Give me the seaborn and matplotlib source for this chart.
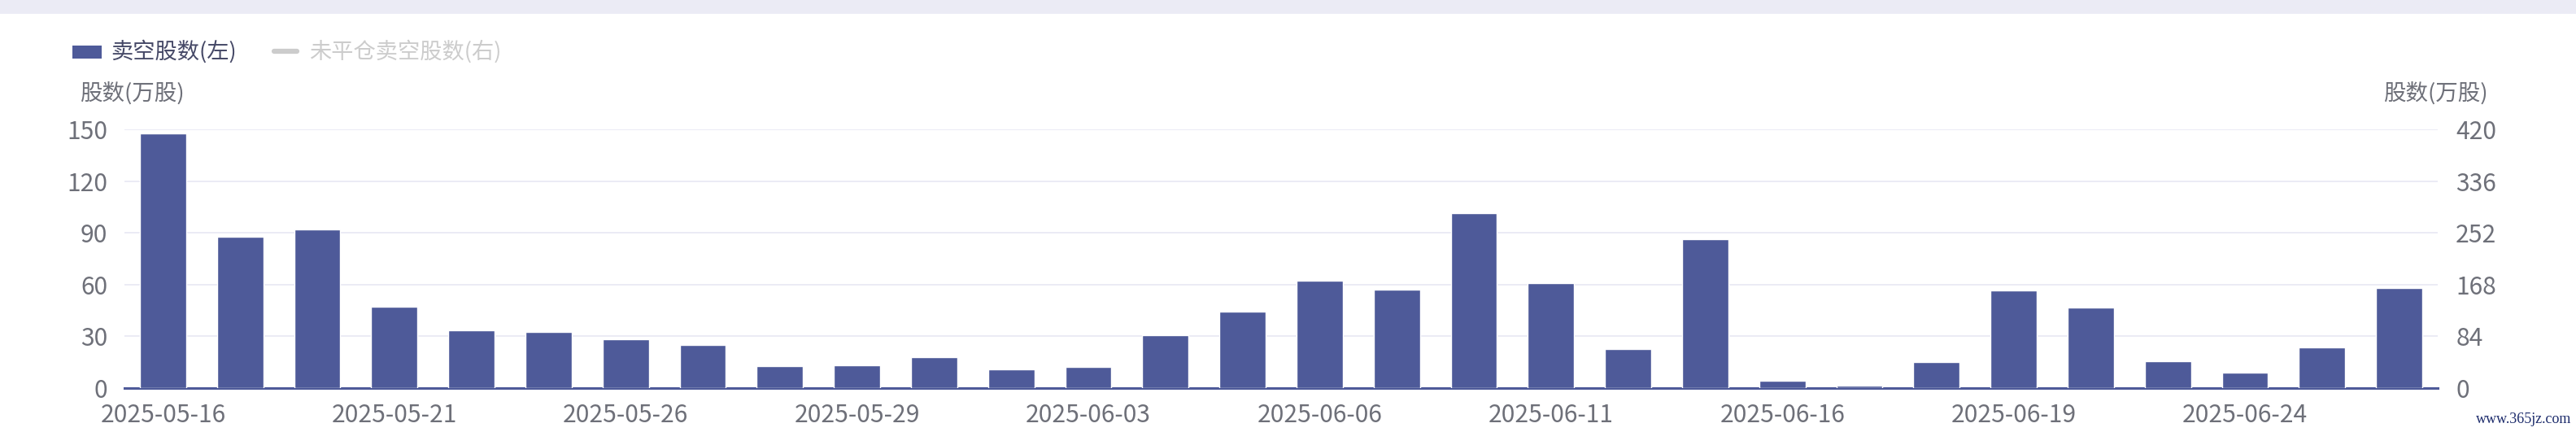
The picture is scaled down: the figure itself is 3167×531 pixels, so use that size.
import matplotlib

matplotlib.use("Agg")

import matplotlib.pyplot as plt
import pandas as pd
import seaborn as sns
from matplotlib.lines import Line2D
from matplotlib.patches import Rectangle

# trading days shown on the category axis
dates = [
    "2025-05-16", "2025-05-19", "2025-05-20", "2025-05-21", "2025-05-22",
    "2025-05-23", "2025-05-26", "2025-05-27", "2025-05-28", "2025-05-29",
    "2025-05-30", "2025-06-02", "2025-06-03", "2025-06-04", "2025-06-05",
    "2025-06-06", "2025-06-09", "2025-06-10", "2025-06-11", "2025-06-12",
    "2025-06-13", "2025-06-16", "2025-06-17", "2025-06-18", "2025-06-19",
    "2025-06-20", "2025-06-23", "2025-06-24", "2025-06-25", "2025-06-26",
]
# 卖空股数 (万股)
short_shares = [
    147.6, 87.6, 91.9, 47.2, 33.6, 32.7, 28.4, 24.9, 12.9, 13.1,
    17.8, 10.9, 12.5, 30.6, 44.4, 62.1, 57.0, 101.5, 60.8, 22.6,
    86.2, 4.4, 1.2, 15.3, 56.5, 46.7, 15.8, 9.0, 23.8, 57.9,
]
left_ticks = [0, 30, 60, 90, 120, 150]
right_ticks = [0, 84, 168, 252, 336, 420]
legend_labels = ["卖空股数(左)", "未平仓卖空股数(右)"]
axis_name = "股数(万股)"

BAR = "#4e5a99"
GREY = "#6e7079"
GRID = "#ebebf5"
W, H = 3167, 531

sns.set_theme(style="white")
plt.rcParams["font.family"] = ["Noto Sans CJK SC", "DejaVu Sans"]


def fx(px):
    return px / W


def fy(py):
    return 1 - py / H


fig = plt.figure(figsize=(W / 100, H / 100), dpi=100)
ax = fig.add_axes([fx(153), 54 / H, (2997 - 153) / W, (372 - 54) / H])

df = pd.DataFrame({"date": dates, "short": short_shares})
sns.barplot(data=df, x="date", y="short", color=BAR, width=0.6, saturation=1, ax=ax, zorder=3)

ax.set_xlim(-0.5, len(dates) - 0.5)
ax.set_ylim(0, 150)
ax.set_yticks(left_ticks)
ax.set_xticks(range(0, len(dates), 3))
ax.set_xticklabels(dates[::3])
ax.set_xlabel("")
ax.set_ylabel("")
ax.grid(axis="y", color=GRID, linewidth=1.4)
ax.grid(axis="x", visible=False)
ax.set_axisbelow(True)
ax.tick_params(axis="x", length=8, width=1.5, color=BAR, labelsize=21.6, labelcolor=GREY, pad=5)
ax.tick_params(axis="y", length=0, labelsize=21.6, labelcolor=GREY, pad=15)
for side in ("top", "right", "left"):
    ax.spines[side].set_visible(False)
ax.spines["bottom"].set_color(BAR)
ax.spines["bottom"].set_linewidth(2.2)

# right axis belongs to the hidden series, only its scale is shown
ax2 = ax.twinx()
ax2.set_ylim(0, 420)
ax2.set_yticks(right_ticks)
ax2.grid(False)
ax2.tick_params(axis="y", length=0, labelsize=21.6, labelcolor=GREY, pad=16)
for side in ("top", "right", "left", "bottom"):
    ax2.spines[side].set_visible(False)

fig.text(fx(162), fy(115), axis_name, ha="center", va="center", fontsize=19.8, color=GREY)
fig.text(fx(2994), fy(115), axis_name, ha="center", va="center", fontsize=19.8, color=GREY)

# legend, second entry greyed out (series switched off)
fig.add_artist(Rectangle((fx(89), fy(72)), 36 / W, 16 / H, transform=fig.transFigure,
                         color=BAR, linewidth=0))
fig.text(fx(136), fy(63), legend_labels[0], ha="left", va="center", fontsize=19.6, color="#454866")
fig.add_artist(Line2D([fx(337), fx(365)], [fy(63), fy(63)], transform=fig.transFigure,
                      color="#cccccc", linewidth=4.5, solid_capstyle="round"))
fig.text(fx(380), fy(63), legend_labels[1], ha="left", va="center", fontsize=19.6, color="#cccccc")

# page strip at the top
fig.add_artist(Rectangle((0, fy(17)), 1, 17 / H, transform=fig.transFigure, color=GRID, linewidth=0))

fig.text(fx(3161), fy(516), "www.365jz.com", ha="right", va="center", fontsize=13,
         family="Liberation Serif", color="#1c2b6b")

fig.savefig("out.png", dpi=100)
plt.close(fig)
